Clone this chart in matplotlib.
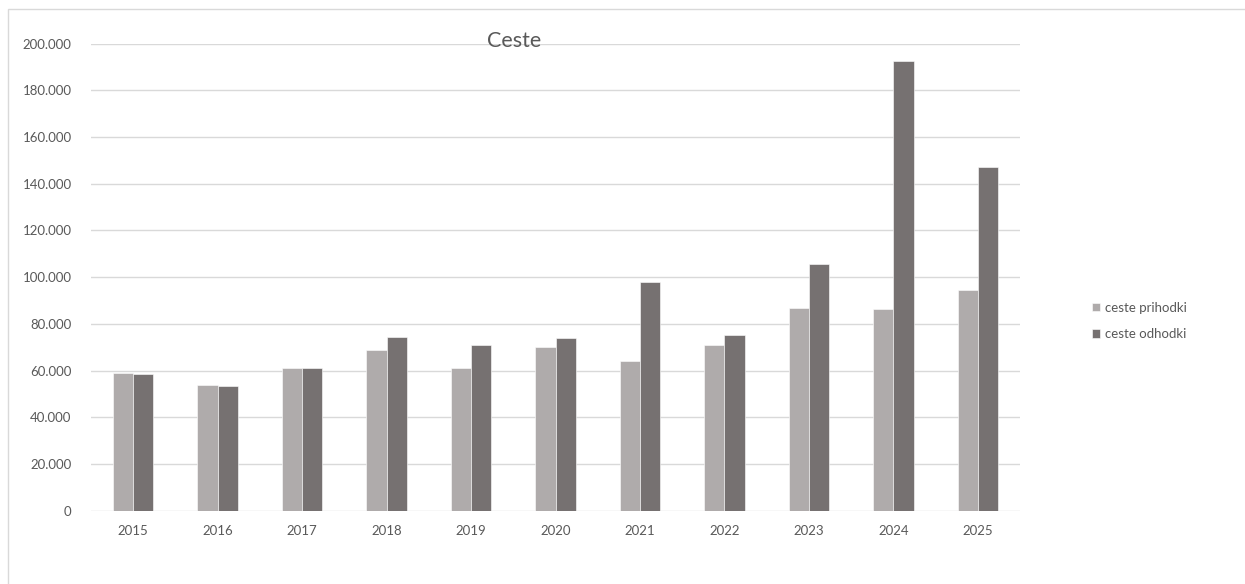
import matplotlib
matplotlib.use("Agg")
import matplotlib.pyplot as plt
from matplotlib.ticker import FuncFormatter, MultipleLocator
from matplotlib.patches import Rectangle
import numpy as np

plt.rcParams['font.family'] = ['Lato', 'DejaVu Sans']

years = ['2015', '2016', '2017', '2018', '2019', '2020', '2021', '2022', '2023', '2024', '2025']
prihodki = [58900, 54000, 61100, 68900, 61100, 70000, 64000, 71000, 86900, 86300, 94400]
odhodki = [58400, 53600, 61100, 74300, 71000, 73900, 97800, 75400, 105700, 192600, 147200]
series_names = ['ceste prihodki', 'ceste odhodki']
title = 'Ceste'

W, H = 1245, 584
fig = plt.figure(figsize=(W / 100, H / 100), dpi=100)
fig.patch.set_facecolor('white')

# chart border (left & top visible)
fig.add_artist(Rectangle((8 / W, -0.1), 1.2, 1 - 9 / H + 0.1, transform=fig.transFigure,
                         fill=False, edgecolor='#D9D9D9', linewidth=1.0))

ax = fig.add_axes([91 / W, 1 - 510.7 / H, (1020 - 91) / W, (510.7 - 43.7) / H])
x = np.arange(len(years))
bw = 0.239
c1, c2 = '#AFABAB', '#767171'
ax.bar(x - bw / 2, prihodki, bw, color=c1, edgecolor='white', linewidth=0.4, label=series_names[0], zorder=3)
ax.bar(x + bw / 2, odhodki, bw, color=c2, edgecolor='white', linewidth=0.4, label=series_names[1], zorder=3)

ax.set_xlim(-0.5, len(years) - 0.5)
ax.set_ylim(0, 200000)
ax.yaxis.set_major_locator(MultipleLocator(20000))
ax.yaxis.set_major_formatter(FuncFormatter(lambda v, p: f"{int(v):,}".replace(",", ".")))
ax.set_xticks(x)
ax.set_xticklabels(years)
ax.grid(axis='y', color='#D9D9D9', linewidth=1.0, zorder=0)
for s in ax.spines.values():
    s.set_visible(False)
ax.tick_params(axis='both', length=0, labelsize=9.5, colors='#595959')
ax.tick_params(axis='y', pad=14)
ax.tick_params(axis='x', pad=10)

fig.text(514 / W, 1 - 41 / H, title, ha='center', va='center', fontsize=15.5, color='#595959')

fig.legend(loc='center left', bbox_to_anchor=(1080 / W, 1 - 321 / H), frameon=False,
           fontsize=9.5, labelcolor='#595959', handlelength=0.6, handleheight=0.6,
           handletextpad=0.4, labelspacing=1.1)

fig.savefig('out.png', dpi=100, facecolor='white')
